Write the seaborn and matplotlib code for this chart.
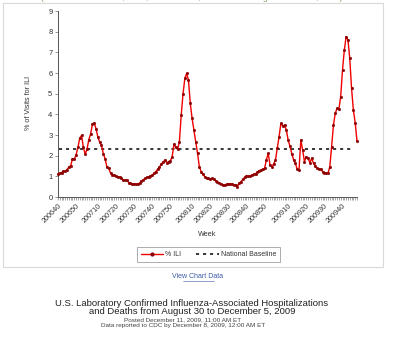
import matplotlib
matplotlib.use("Agg")
import matplotlib.pyplot as plt
import numpy as np
import pandas as pd
import seaborn as sns
from matplotlib.lines import Line2D
from matplotlib.patches import Rectangle

# MMWR weeks covered by the chart: 2006 week 40 through 2009 week 48
START_YEAR, START_WEEK = 2006, 40
END_YEAR, END_WEEK = 2009, 48
WEEKS_IN_YEAR = {2006: 52, 2007: 52, 2008: 53, 2009: 52}

# Weighted percentage of outpatient visits for influenza-like illness, one value per week
PCT_ILI = [
    # 2006 wk40 - wk52
    1.12, 1.15, 1.18, 1.25, 1.24, 1.33, 1.45, 1.52, 1.85, 1.82, 2.05, 2.40, 2.85,
    # 2007 wk1 - wk52
    2.98, 2.40, 2.08, 2.30, 2.78, 3.05, 3.52, 3.58, 3.30, 2.90, 2.65, 2.50, 2.10,
    1.85, 1.45, 1.40, 1.15, 1.08, 1.05, 1.02, 0.98, 0.95, 0.92, 0.80, 0.82, 0.80,
    0.70, 0.66, 0.64, 0.63, 0.62, 0.63, 0.66, 0.79, 0.82, 0.90, 0.95, 0.98, 1.02,
    1.06, 1.15, 1.23, 1.35, 1.44, 1.60, 1.68, 1.79, 1.66, 1.71, 1.75, 1.95, 2.56,
    # 2008 wk1 - wk53
    2.40, 2.30, 2.68, 3.97, 5.00, 5.74, 5.98, 5.66, 4.53, 3.80, 3.24, 2.68, 2.11,
    1.47, 1.23, 1.10, 0.98, 0.92, 0.90, 0.85, 0.90, 0.85, 0.79, 0.72, 0.66, 0.63,
    0.60, 0.58, 0.62, 0.63, 0.63, 0.62, 0.60, 0.58, 0.50, 0.66, 0.75, 0.85, 0.95,
    1.02, 1.00, 1.02, 1.06, 1.10, 1.12, 1.20, 1.28, 1.30, 1.35, 1.39, 1.80, 2.11,
    1.55,
    # 2009 wk1 - wk48
    1.47, 1.60, 1.79, 2.35, 2.92, 3.56, 3.44, 3.48, 3.24, 2.76, 2.45, 2.10, 1.80,
    1.63, 1.34, 1.31, 2.76, 2.27, 1.71, 1.95, 1.87, 1.66, 1.87, 1.63, 1.50, 1.39,
    1.36, 1.34, 1.23, 1.18, 1.16, 1.15, 1.47, 2.44, 3.48, 4.05, 4.29, 4.24, 4.86,
    6.15, 7.10, 7.76, 7.60, 6.71, 5.26, 4.20, 3.60, 2.71,
]
NATIONAL_BASELINE = 2.3

TICK_WEEKS = ["200640", "200650", "200710", "200720", "200730", "200740",
              "200750", "200810", "200820", "200830", "200840", "200850",
              "200910", "200920", "200930", "200940"]
Y_TICKS = [0, 1, 2, 3, 4, 5, 6, 7, 8, 9]

# Build the list of week codes (YYYYWW)
weeks = []
yr, wk = START_YEAR, START_WEEK
while (yr, wk) <= (END_YEAR, END_WEEK):
    weeks.append(f"{yr}{wk:02d}")
    wk += 1
    if wk > WEEKS_IN_YEAR[yr]:
        yr, wk = yr + 1, 1

df = pd.DataFrame({"week": weeks, "pct": PCT_ILI})
df["pos"] = np.arange(len(df))

sns.set_style("white")
plt.rcParams["font.family"] = ["Liberation Sans", "DejaVu Sans"]

W, H = 400, 345
fig = plt.figure(figsize=(W / 100, H / 100), dpi=100)
fig.patch.set_facecolor("white")


def fx(px):
    return px / W


def fy(py):
    return 1 - py / H


LINE_RED = "#f00000"
MARK_RED = "#8b0000"

# light frame around the chart panel
fig.patches.append(Rectangle((fx(3), fy(267)), fx(380), (267 - 3) / H,
                             transform=fig.transFigure, fill=False,
                             edgecolor="#d9d9d9", linewidth=0.8))

ax = fig.add_axes([fx(58), fy(197), fx(357) - fx(58), fy(11) - fy(197)])

sns.lineplot(data=df, x="pos", y="pct", ax=ax, color=LINE_RED, linewidth=1.0,
             marker="o", markersize=2.0, markerfacecolor=MARK_RED,
             markeredgecolor=MARK_RED, markeredgewidth=0.2, clip_on=False,
             zorder=3)
ax.axhline(NATIONAL_BASELINE, xmin=0.005, xmax=0.985, color="black",
           linewidth=1.1, linestyle=(0, (2.0, 2.6)), zorder=2)

ax.set_xlim(0, len(df) - 1)
ax.set_ylim(0, 9)
ax.set_yticks(Y_TICKS)
ax.set_yticklabels([str(v) for v in Y_TICKS], fontsize=5.5, color="#333333")

tick_pos = [weeks.index(t) for t in TICK_WEEKS]
ax.set_xticks(tick_pos)
ax.set_xticklabels(TICK_WEEKS, rotation=45, ha="right", rotation_mode="anchor",
                   fontsize=5.2, color="#333333")
ax.set_xticks(df["pos"], minor=True)
ax.tick_params(axis="x", which="both", direction="out", length=2, width=0.4,
               color="#666666", pad=2, bottom=True)
ax.tick_params(axis="y", direction="out", length=2, width=0.5,
               color="#666666", pad=2, left=True)
ax.set_xlabel("")
ax.set_ylabel("")
for side in ("top", "right"):
    ax.spines[side].set_visible(False)
for side in ("left", "bottom"):
    ax.spines[side].set_color("#555555")
    ax.spines[side].set_linewidth(0.7)
ax.grid(False)

fig.text(fx(29), fy(103), "% of Visits for ILI", rotation=90, fontsize=5.2,
         color="#333333", ha="center", va="center")
fig.text(fx(207), fy(235), "Week", fontsize=5.2, color="#333333",
         ha="center", va="center")

# legend
handles = [
    Line2D([], [], color=LINE_RED, linewidth=1.0, marker="o", markersize=2.0,
           markerfacecolor=MARK_RED, markeredgecolor=MARK_RED),
    Line2D([], [], color="black", linewidth=1.1, linestyle=(0, (2.0, 2.6))),
]
leg = fig.legend(handles, ["% ILI", "National Baseline"], ncol=2,
                 loc="center", bbox_to_anchor=(fx(208.5), fy(254.5)),
                 fontsize=5, frameon=True, fancybox=False, handlelength=3.2,
                 handletextpad=0.3, columnspacing=2.2, borderpad=0.6)
leg.get_frame().set_edgecolor("#888888")
leg.get_frame().set_linewidth(0.6)
for t in leg.get_texts():
    t.set_color("#333333")

# header line that runs off the top of the panel
fig.text(fx(192), fy(-1.5),
         "(Posted December 11, 2009, 11:00 AM ET, For Week Ending December 5, 2009)",
         fontsize=6, color="#7a9a5e", ha="center", va="center")

fig.text(fx(198), fy(277), "View Chart Data", fontsize=5, color="#3b5ba8",
         ha="center", va="center")
fig.lines.append(Line2D([fx(183), fx(214)], [fy(280.5), fy(280.5)],
                        transform=fig.transFigure, color="#3b5ba8",
                        linewidth=0.4))

fig.text(fx(192), fy(303), "U.S. Laboratory Confirmed Influenza-Associated Hospitalizations",
         fontsize=6.8, color="#222222", ha="center", va="center")
fig.text(fx(192), fy(312), "and Deaths from August 30 to December 5, 2009",
         fontsize=6.8, color="#222222", ha="center", va="center")
fig.text(fx(183), fy(319.5), "Posted December 11, 2009, 11:00 AM ET",
         fontsize=4.6, color="#444444", ha="center", va="center")
fig.text(fx(183), fy(325.5), "Data reported to CDC by December 8, 2009, 12:00 AM ET",
         fontsize=4.6, color="#444444", ha="center", va="center")

fig.savefig("out.png", dpi=100, facecolor="white")
